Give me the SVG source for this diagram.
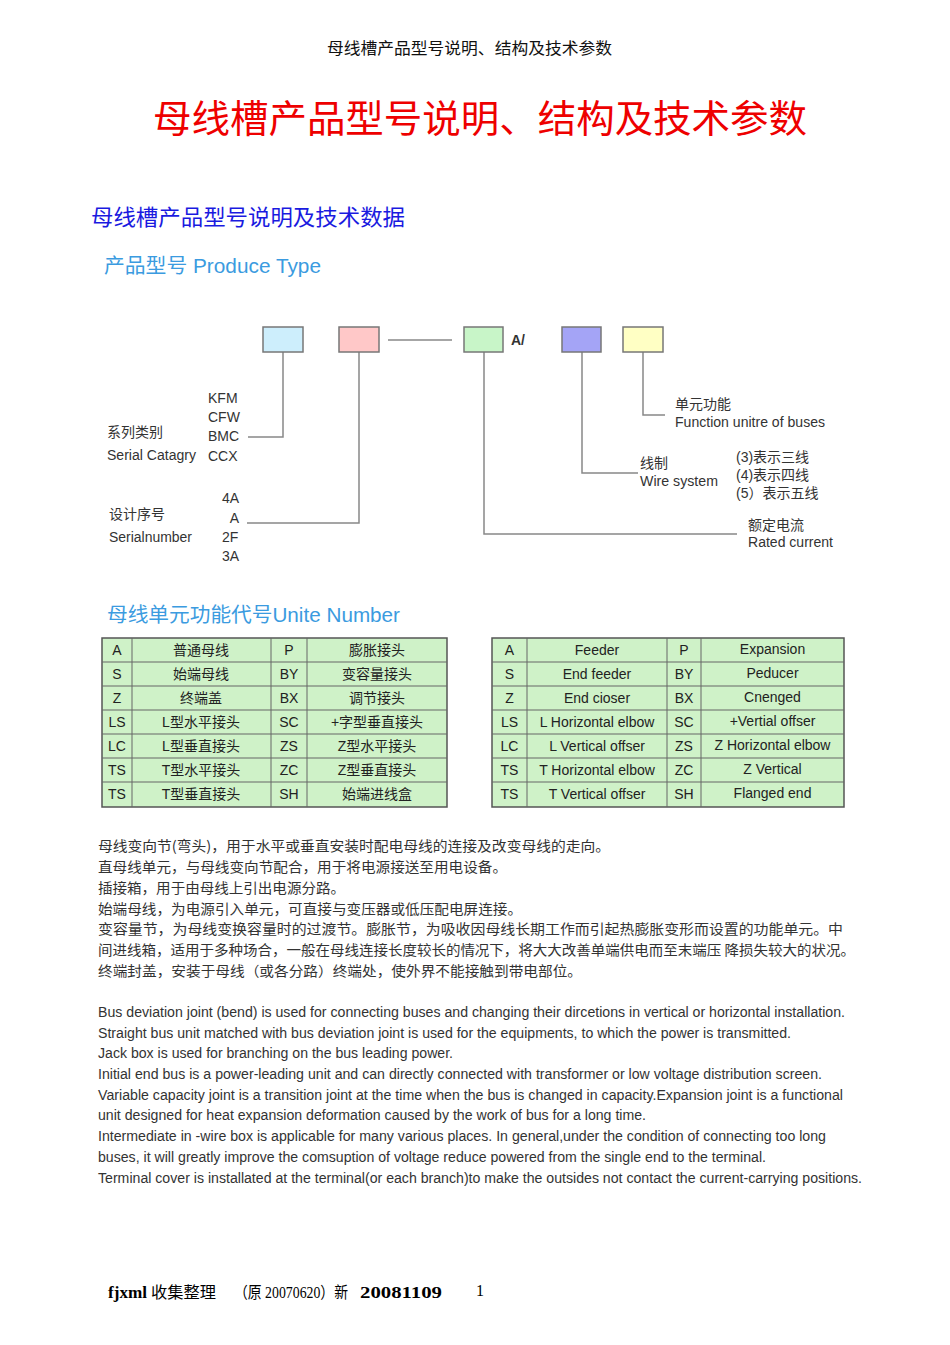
<svg xmlns="http://www.w3.org/2000/svg" width="950" height="1345" viewBox="0 0 950 1345">
<style>
.cjk{font-family:"Noto Sans CJK SC",sans-serif}
.lbl{font-family:"Liberation Sans","Noto Sans CJK SC",sans-serif;font-size:14px;fill:#333}
.sec{font-family:"Liberation Sans","Noto Sans CJK SC",sans-serif;font-size:20px;fill:#3b9be0}
.box{stroke:#777;stroke-width:1.5}
.con{fill:none;stroke:#888;stroke-width:1.5}
.tbl{fill:#cff2c8;stroke:#555;stroke-width:1.5}
.grid{stroke:#666;stroke-width:1}
.tc{font-family:"Liberation Sans","Noto Sans CJK SC",sans-serif;font-size:14px;fill:#222;text-anchor:middle;dominant-baseline:central}
.zh{font-family:"Noto Sans CJK SC",sans-serif;font-size:14px;fill:#333;dominant-baseline:central}
.en{font-family:"Liberation Sans",sans-serif;font-size:14px;fill:#333;dominant-baseline:central}
.ft{font-family:"Liberation Serif","Noto Sans CJK SC",serif;font-size:16px;fill:#000;dominant-baseline:central}
</style>
<rect width="950" height="1345" fill="#fff"/>
<g id="header">
<text x="469.5" y="47" class="cjk" font-size="16" fill="#111" text-anchor="middle" dominant-baseline="central" textLength="285" lengthAdjust="spacingAndGlyphs">母线槽产品型号说明、结构及技术参数</text>
<text x="480" y="115" class="cjk" font-size="38" fill="#ee0000" text-anchor="middle" dominant-baseline="central" textLength="654" lengthAdjust="spacingAndGlyphs">母线槽产品型号说明、结构及技术参数</text>
<text x="91" y="215" class="cjk" font-size="22" fill="#1a1ae0" dominant-baseline="central" textLength="314" lengthAdjust="spacingAndGlyphs">母线槽产品型号说明及技术数据</text>
</g>
<g id="produce-type-title"><text x="104" y="266" class="sec" dominant-baseline="central" textLength="217" lengthAdjust="spacingAndGlyphs">产品型号 Produce Type</text></g>
<g id="connectors">
<polyline class="con" points="283,352 283,437 248,437"/>
<polyline class="con" points="359,352 359,523 247,523"/>
<line class="con" x1="388" y1="340" x2="452" y2="340"/>
<polyline class="con" points="484,352 484,534 737,534"/>
<polyline class="con" points="582,352 582,473 638,473"/>
<polyline class="con" points="643,352 643,415 665,415"/>
</g>
<g id="box-series"><rect class="box" x="263" y="327" width="40" height="25" fill="#cdeefc"/></g>
<g id="box-serial"><rect class="box" x="339" y="327" width="40" height="25" fill="#ffc8c8"/></g>
<g id="box-current"><rect class="box" x="464" y="327" width="39" height="25" fill="#c8f5c8"/><text x="511" y="340" class="lbl" font-size="13" font-weight="bold" dominant-baseline="central">A/</text></g>
<g id="box-wire"><rect class="box" x="562" y="327" width="39" height="25" fill="#a4a4f6"/></g>
<g id="box-function"><rect class="box" x="623" y="327" width="40" height="25" fill="#ffffc4"/></g>
<g id="label-series" class="lbl">
<text x="208" y="398" dominant-baseline="central">KFM</text>
<text x="208" y="417" dominant-baseline="central">CFW</text>
<text x="208" y="436" dominant-baseline="central">BMC</text>
<text x="208" y="456" dominant-baseline="central">CCX</text>
<text x="107" y="432" dominant-baseline="central">系列类别</text>
<text x="107" y="455" dominant-baseline="central" textLength="89" lengthAdjust="spacingAndGlyphs">Serial Catagry</text>
</g>
<g id="label-serial" class="lbl">
<text x="239" y="498" text-anchor="end" dominant-baseline="central">4A</text>
<text x="239" y="518" text-anchor="end" dominant-baseline="central">A</text>
<text x="222" y="537" dominant-baseline="central">2F</text>
<text x="222" y="556" dominant-baseline="central">3A</text>
<text x="109" y="514" dominant-baseline="central">设计序号</text>
<text x="109" y="537" dominant-baseline="central" textLength="83" lengthAdjust="spacingAndGlyphs">Serialnumber</text>
</g>
<g id="label-function" class="lbl">
<text x="675" y="404" dominant-baseline="central">单元功能</text>
<text x="675" y="422" dominant-baseline="central" textLength="150" lengthAdjust="spacingAndGlyphs">Function unitre of buses</text>
</g>
<g id="label-wire" class="lbl">
<text x="640" y="463" dominant-baseline="central">线制</text>
<text x="640" y="481" dominant-baseline="central" textLength="78" lengthAdjust="spacingAndGlyphs">Wire system</text>
<text x="736" y="457" dominant-baseline="central">(3)表示三线</text>
<text x="736" y="475" dominant-baseline="central">(4)表示四线</text>
<text x="736" y="493" dominant-baseline="central">(5）表示五线</text>
</g>
<g id="label-current" class="lbl">
<text x="748" y="525" dominant-baseline="central">额定电流</text>
<text x="748" y="542" dominant-baseline="central" textLength="85" lengthAdjust="spacingAndGlyphs">Rated current</text>
</g>
<g id="unite-number-title"><text x="107" y="615" class="sec" dominant-baseline="central" textLength="293" lengthAdjust="spacingAndGlyphs">母线单元功能代号Unite Number</text></g>
<g id="table-cn">
<rect class="tbl" x="102" y="638" width="345" height="169"/>
<g class="grid">
<line x1="132" y1="638" x2="132" y2="807"/><line x1="271" y1="638" x2="271" y2="807"/><line x1="307" y1="638" x2="307" y2="807"/>
<line x1="102" y1="662" x2="447" y2="662"/><line x1="102" y1="686" x2="447" y2="686"/><line x1="102" y1="710" x2="447" y2="710"/>
<line x1="102" y1="734" x2="447" y2="734"/><line x1="102" y1="758" x2="447" y2="758"/><line x1="102" y1="782" x2="447" y2="782"/>
</g>
<text class="tc" x="117" y="650">A</text><text class="tc" x="201" y="650">普通母线</text><text class="tc" x="289" y="650">P</text><text class="tc" x="377" y="650">膨胀接头</text>
<text class="tc" x="117" y="674">S</text><text class="tc" x="201" y="674">始端母线</text><text class="tc" x="289" y="674">BY</text><text class="tc" x="377" y="674">变容量接头</text>
<text class="tc" x="117" y="698">Z</text><text class="tc" x="201" y="698">终端盖</text><text class="tc" x="289" y="698">BX</text><text class="tc" x="377" y="698">调节接头</text>
<text class="tc" x="117" y="722">LS</text><text class="tc" x="201" y="722">L型水平接头</text><text class="tc" x="289" y="722">SC</text><text class="tc" x="377" y="722">+字型垂直接头</text>
<text class="tc" x="117" y="746">LC</text><text class="tc" x="201" y="746">L型垂直接头</text><text class="tc" x="289" y="746">ZS</text><text class="tc" x="377" y="746">Z型水平接头</text>
<text class="tc" x="117" y="770">TS</text><text class="tc" x="201" y="770">T型水平接头</text><text class="tc" x="289" y="770">ZC</text><text class="tc" x="377" y="770">Z型垂直接头</text>
<text class="tc" x="117" y="794">TS</text><text class="tc" x="201" y="794">T型垂直接头</text><text class="tc" x="289" y="794">SH</text><text class="tc" x="377" y="794">始端进线盒</text>
</g>
<g id="table-en">
<rect class="tbl" x="492" y="638" width="352" height="169"/>
<g class="grid">
<line x1="527" y1="638" x2="527" y2="807"/><line x1="667" y1="638" x2="667" y2="807"/><line x1="701" y1="638" x2="701" y2="807"/>
<line x1="492" y1="662" x2="844" y2="662"/><line x1="492" y1="686" x2="844" y2="686"/><line x1="492" y1="710" x2="844" y2="710"/>
<line x1="492" y1="734" x2="844" y2="734"/><line x1="492" y1="758" x2="844" y2="758"/><line x1="492" y1="782" x2="844" y2="782"/>
</g>
<text class="tc" x="509.5" y="650">A</text><text class="tc" x="597" y="650">Feeder</text><text class="tc" x="684" y="650">P</text><text class="tc" x="772.5" y="649">Expansion</text>
<text class="tc" x="509.5" y="674">S</text><text class="tc" x="597" y="674">End feeder</text><text class="tc" x="684" y="674">BY</text><text class="tc" x="772.5" y="673">Peducer</text>
<text class="tc" x="509.5" y="698">Z</text><text class="tc" x="597" y="698">End cioser</text><text class="tc" x="684" y="698">BX</text><text class="tc" x="772.5" y="697">Cnenged</text>
<text class="tc" x="509.5" y="722">LS</text><text class="tc" x="597" y="722">L Horizontal elbow</text><text class="tc" x="684" y="722">SC</text><text class="tc" x="772.5" y="721">+Vertial offser</text>
<text class="tc" x="509.5" y="746">LC</text><text class="tc" x="597" y="746">L Vertical offser</text><text class="tc" x="684" y="746">ZS</text><text class="tc" x="772.5" y="745">Z Horizontal elbow</text>
<text class="tc" x="509.5" y="770">TS</text><text class="tc" x="597" y="770">T Horizontal elbow</text><text class="tc" x="684" y="770">ZC</text><text class="tc" x="772.5" y="769">Z Vertical</text>
<text class="tc" x="509.5" y="794">TS</text><text class="tc" x="597" y="794">T Vertical offser</text><text class="tc" x="684" y="794">SH</text><text class="tc" x="772.5" y="793">Flanged end</text>
</g>
<g id="text-cn">
<text class="zh" x="98" y="845" textLength="512" lengthAdjust="spacingAndGlyphs">母线变向节(弯头)，用于水平或垂直安装时配电母线的连接及改变母线的走向。</text>
<text class="zh" x="98" y="866" textLength="409" lengthAdjust="spacingAndGlyphs">直母线单元，与母线变向节配合，用于将电源接送至用电设备。</text>
<text class="zh" x="98" y="887" textLength="247" lengthAdjust="spacingAndGlyphs">插接箱，用于由母线上引出电源分路。</text>
<text class="zh" x="98" y="908" textLength="424" lengthAdjust="spacingAndGlyphs">始端母线，为电源引入单元，可直接与变压器或低压配电屏连接。</text>
<text class="zh" x="98" y="928" textLength="745" lengthAdjust="spacingAndGlyphs">变容量节，为母线变换容量时的过渡节。膨胀节，为吸收因母线长期工作而引起热膨胀变形而设置的功能单元。中</text>
<text class="zh" x="98" y="949" textLength="757" lengthAdjust="spacingAndGlyphs">间进线箱，适用于多种场合，一般在母线连接长度较长的情况下，将大大改善单端供电而至末端压 降损失较大的状况。</text>
<text class="zh" x="98" y="970" textLength="484" lengthAdjust="spacingAndGlyphs">终端封盖，安装于母线（或各分路）终端处，使外界不能接触到带电部位。</text>
</g>
<g id="text-en">
<text class="en" x="98" y="1012" textLength="747" lengthAdjust="spacingAndGlyphs">Bus deviation joint (bend) is used for connecting buses and changing their dircetions in vertical or horizontal installation.</text>
<text class="en" x="98" y="1033" textLength="693" lengthAdjust="spacingAndGlyphs">Straight bus unit matched with bus deviation joint is used for the equipments, to which the power is transmitted.</text>
<text class="en" x="98" y="1053" textLength="355" lengthAdjust="spacingAndGlyphs">Jack box is used for branching on the bus leading power.</text>
<text class="en" x="98" y="1074" textLength="724" lengthAdjust="spacingAndGlyphs">Initial end bus is a power-leading unit and can directly connected with transformer or low voltage distribution screen.</text>
<text class="en" x="98" y="1095" textLength="745" lengthAdjust="spacingAndGlyphs">Variable capacity joint is a transition joint at the time when the bus is changed in capacity.Expansion joint is a functional</text>
<text class="en" x="98" y="1115" textLength="548" lengthAdjust="spacingAndGlyphs">unit designed for heat expansion deformation caused by the work of bus for a long time.</text>
<text class="en" x="98" y="1136" textLength="728" lengthAdjust="spacingAndGlyphs">Intermediate in -wire box is applicable for many various places. In general,under the condition of connecting too long</text>
<text class="en" x="98" y="1157" textLength="668" lengthAdjust="spacingAndGlyphs">buses, it will greatly improve the comsuption of voltage reduce powered from the single end to the terminal.</text>
<text class="en" x="98" y="1178" textLength="764" lengthAdjust="spacingAndGlyphs">Terminal cover is installated at the terminal(or each branch)to make the outsides not contact the current-carrying positions.</text>
</g>
<g id="footer">
<text class="ft" x="108" y="1292" font-weight="bold" textLength="39" lengthAdjust="spacingAndGlyphs">fjxml</text>
<text class="ft" x="151" y="1292" textLength="65" lengthAdjust="spacingAndGlyphs">收集整理</text>
<text class="ft" x="234" y="1292" textLength="114" lengthAdjust="spacingAndGlyphs">（原 20070620）新</text>
<text class="ft" x="360" y="1292" font-weight="bold" textLength="82" lengthAdjust="spacingAndGlyphs">20081109</text>
<text class="ft" x="476" y="1290" font-size="14">1</text>
</g>
</svg>
